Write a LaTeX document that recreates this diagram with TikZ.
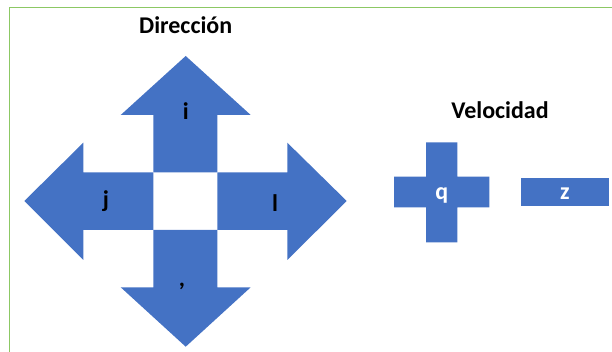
\documentclass[tikz,border=0pt]{standalone}
\usepackage{fontspec}
\setmainfont{Carlito}
\usepackage{tikz}
\usetikzlibrary{positioning}
\definecolor{officeblue}{RGB}{68,114,196}
\definecolor{framegreen}{RGB}{140,200,100}
\tikzset{
    shapefill/.style={fill=officeblue, draw=none},
    title/.style={inner sep=0pt, anchor=base, font=\fontsize{24}{28}\selectfont\bfseries},
    keylabel/.style={inner sep=0pt, anchor=base, font=\fontsize{24}{28}\selectfont\bfseries, text=black},
    keylabelw/.style={keylabel, text=white},
}

\begin{document}
\begin{tikzpicture}[x=1pt, y=-1pt]
    \useasboundingbox (0,0) rectangle (612,352);
    % frame
    \draw[framegreen, line width=1.6pt] (613,7.5) -- (9.5,7.5) -- (9.5,353);
    % direccion arrows
    \fill[shapefill] (153.3,172.3) -- (153.3,115) -- (120.7,115) -- (185.7,56)
        -- (250.7,115) -- (217.3,115) -- (217.3,172.3) -- cycle;
    \fill[shapefill] (153.3,230) -- (153.3,287.3) -- (120.7,287.3) -- (185.7,346.7)
        -- (250.7,287.3) -- (217.3,287.3) -- (217.3,230) -- cycle;
    \fill[shapefill] (153.3,172.3) -- (83.3,172.3) -- (83.3,142.7) -- (24.3,201)
        -- (83.3,260) -- (83.3,230) -- (153.3,230) -- cycle;
    \fill[shapefill] (217.3,172.3) -- (287.3,172.3) -- (287.3,142.7) -- (346.7,201)
        -- (287.3,260) -- (287.3,230) -- (217.3,230) -- cycle;
    % velocidad
    \fill[shapefill] (426,142.3) -- (457.3,142.3) -- (457.3,176.7) -- (489.3,176.7)
        -- (489.3,207.3) -- (457.3,207.3) -- (457.3,242.3) -- (426,242.3)
        -- (426,207.3) -- (394,207.3) -- (394,176.7) -- (426,176.7) -- cycle;
    \fill[shapefill] (521,177.7) rectangle (609.3,205.7);
    % labels
    \node[title] (dir) at (185.7,34) {Dirección};
    \node[title] (vel) at (500,118.3) {Velocidad};
    \node[keylabel] (up) at (185.7,120) {i};
    \node[keylabel] (left) at (106,208) {j};
    \node[keylabel] (right) at (275,211.5) {l};
    \node[keylabel] (down) at (182,286) {,};
    \node[keylabelw] (plus) at (441.7,199.5) {q};
    \node[keylabelw] (minus) at (565,200) {z};
\end{tikzpicture}
\end{document}
